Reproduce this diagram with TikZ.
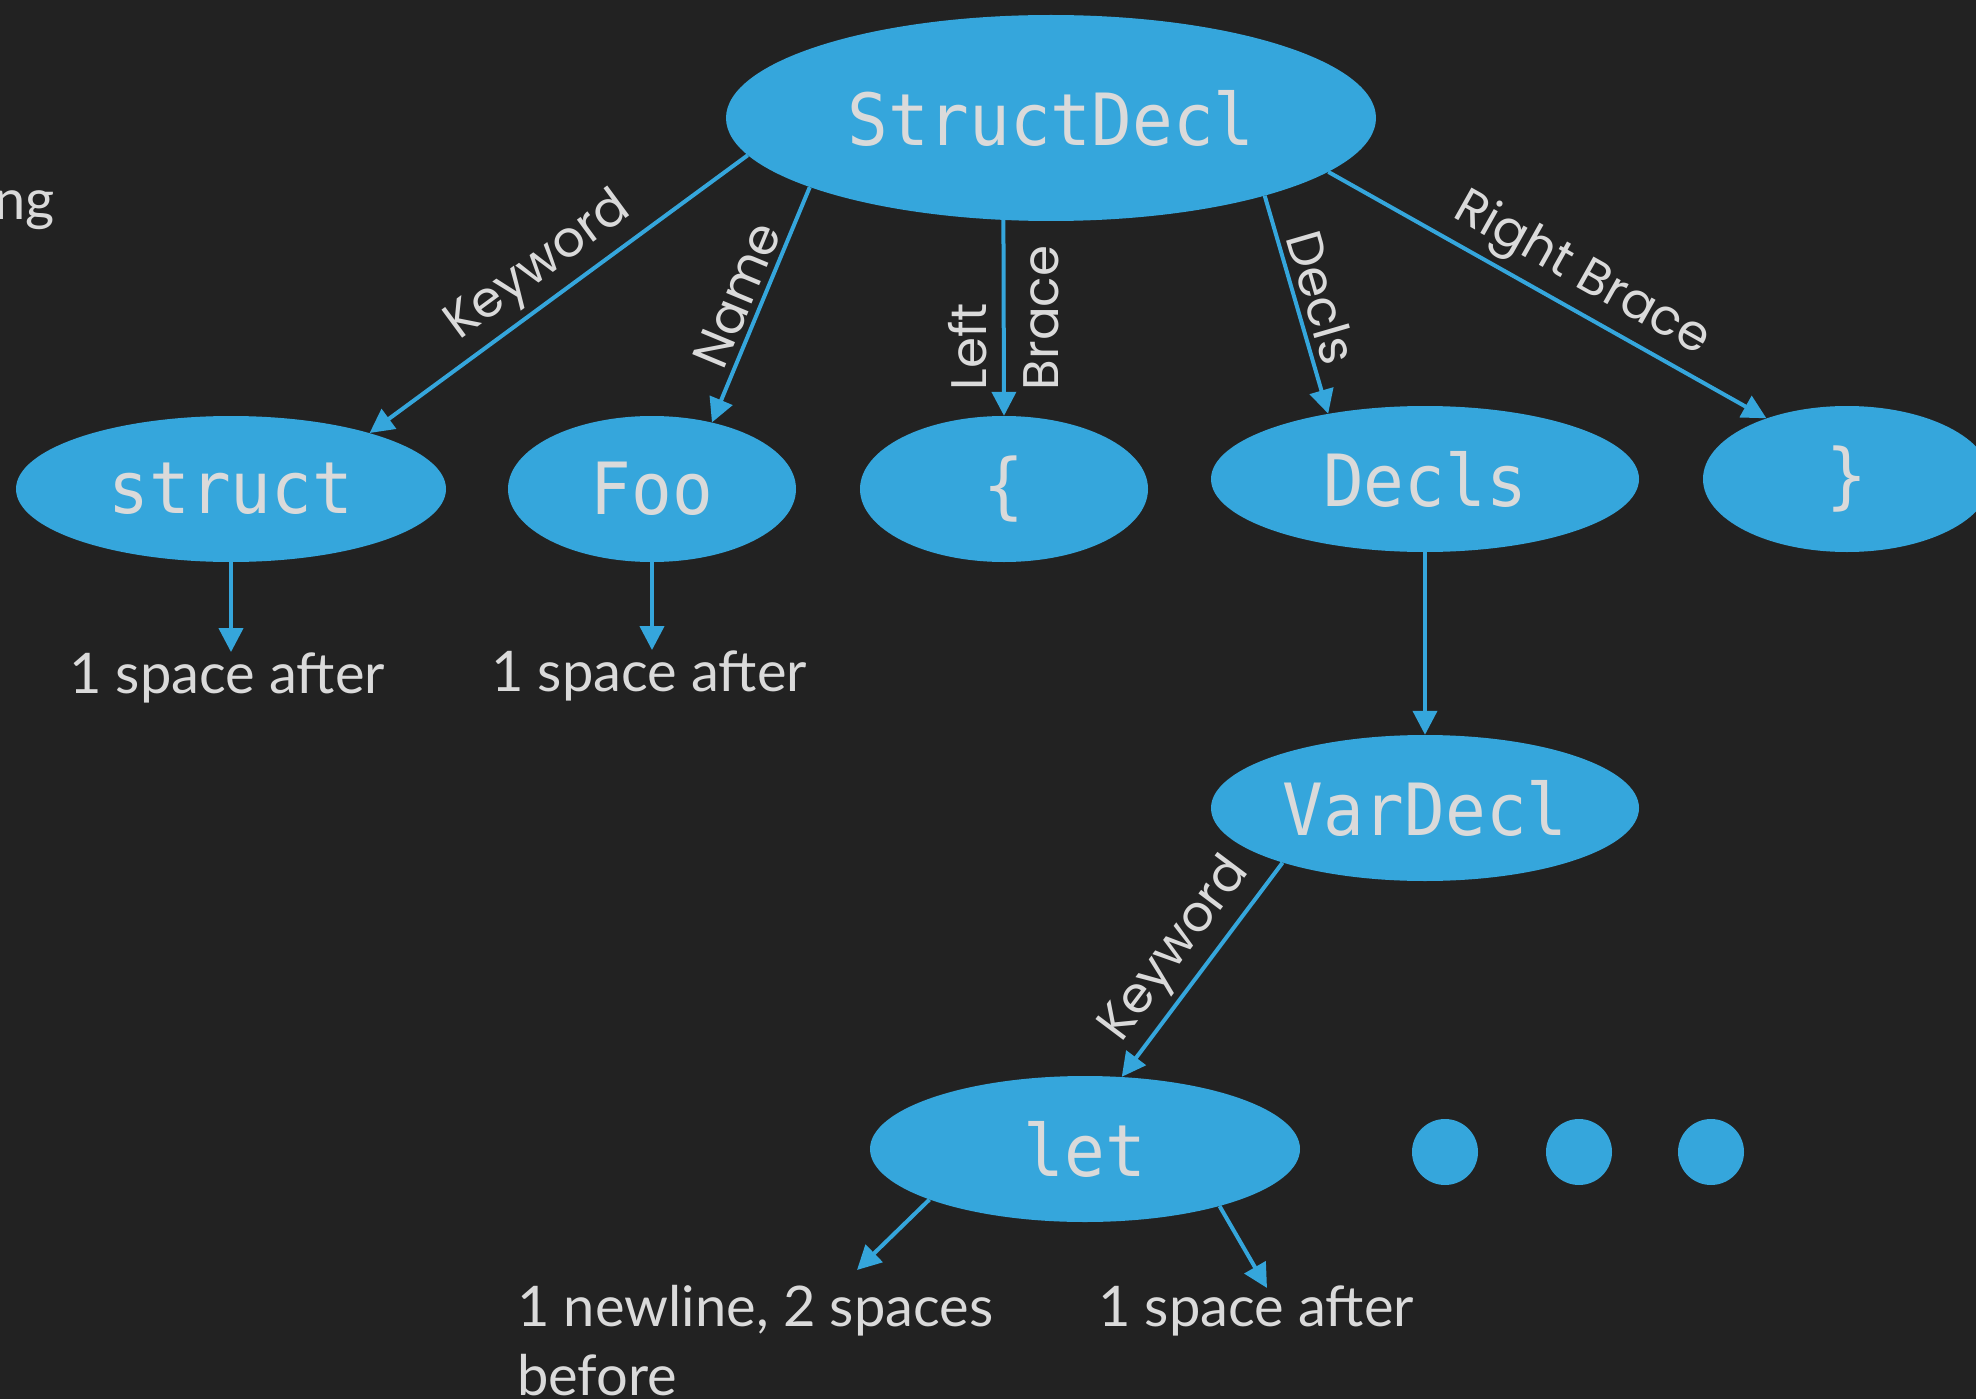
\documentclass[tikz,border=0pt]{standalone}
\usepackage{fontspec}
\setmainfont{Lato}
\newfontfamily\labelfont{Poppins}
\setmonofont{DejaVu Sans Mono}[FakeStretch=0.94]
\usetikzlibrary{shapes.geometric,arrows.meta}
\definecolor{bg}{HTML}{222222}
\definecolor{nodeblue}{HTML}{35A6DC}
\definecolor{txt}{HTML}{DADADA}
\begin{document}
\begin{tikzpicture}[x=1pt,y=-1pt,
  tree/.style={ellipse, fill=nodeblue, inner sep=0pt, text=txt,
    font=\ttfamily\fontsize{72}{84}\selectfont},
  conn/.style={draw=nodeblue, line width=4pt, -{Triangle[length=24pt,width=24pt]}},
  elabel/.style={text=txt, font=\labelfont\fontsize{50}{72}\selectfont, sloped, above, inner sep=6pt},
  vlabel/.style={text=txt, font=\labelfont\fontsize{50}{72}\selectfont, rotate=90, align=left, inner sep=0pt},
  note/.style={text=txt, font=\fontsize{56}{69}\selectfont, inner sep=0pt},
  dot/.style={circle, fill=nodeblue, minimum size=66pt, inner sep=0pt}]
\useasboundingbox[fill=bg] (0,0) rectangle (1976,1399);
\clip (0,0) rectangle (1976,1399);

% nodes
\node[tree, minimum width=650pt, minimum height=206pt] (SD) at (1051,118) {StructDecl};
\node[tree, minimum width=430pt, minimum height=146pt] (struct) at (231,489) {struct};
\node[tree, minimum width=288pt, minimum height=146pt] (Foo) at (652,489) {Foo};
\node[tree, minimum width=288pt, minimum height=146pt] (lb) at (1004,489) {\{};
\node[tree, minimum width=428pt, minimum height=146pt] (Decls) at (1425,479) {Decls};
\node[tree, minimum width=288pt, minimum height=146pt] (rb) at (1847,479) {\}};
\node[tree, minimum width=428pt, minimum height=146pt] (VarDecl) at (1425,808) {VarDecl};
\node[tree, minimum width=430pt, minimum height=146pt] (let) at (1085,1149) {let};

\node[dot] (d1) at (1445,1152) {};
\node[dot] (d2) at (1579,1152) {};
\node[dot] (d3) at (1711,1152) {};

% texts
\node[note, anchor=base east] (ng) at (55,220) {ng};
\node[note, anchor=base] (t1) at (227,693) {1 space after};
\node[note, anchor=base] (t2) at (649,691) {1 space after};
\node[note, anchor=north west, align=left] (t3) at (517,1285) {1 newline, 2 spaces\\before};
\node[note, anchor=base] (t4) at (1256,1326) {1 space after};
\coordinate (e3) at (857,1270);
\coordinate (e4) at (1267,1288);

% connectors
\draw[conn] (SD.187) -- node[elabel] {Keyword} (struct.22);
\draw[conn] (SD.196) -- node[elabel] {Name} (Foo.48);
\draw[conn] (SD.245) -- node[vlabel] {Left\\Brace} (lb.north);
\draw[conn] (SD.340) -- node[elabel] {Decls} (Decls.146);
\draw[conn] (SD.349) -- node[elabel, pos=0.54] {Right Brace} (rb.143);
\draw[conn] (struct.south) -- (struct.south |- t1.north);
\draw[conn] (Foo.south) -- (Foo.south |- t2.north);
\draw[conn] (Decls.south) -- (VarDecl.north);
\draw[conn] (VarDecl.201) -- node[elabel] {Keyword} (let.63);
\draw[conn] (let.198) -- (e3);
\draw[conn] (let.337) -- (e4);
\end{tikzpicture}
\end{document}
